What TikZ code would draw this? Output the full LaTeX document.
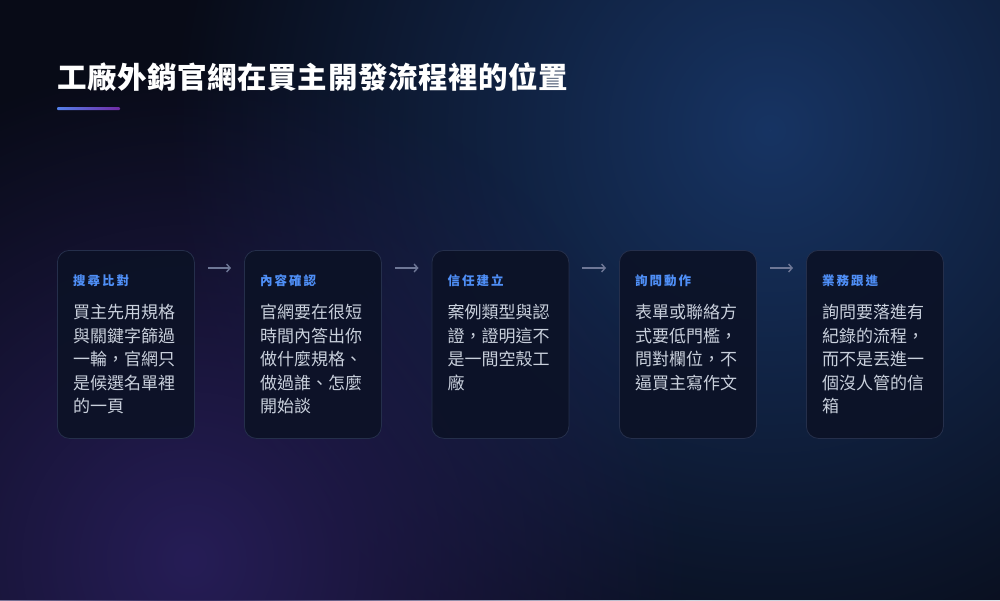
\documentclass[tikz,border=0pt]{standalone}
\usepackage{fontspec}
\setmainfont{Noto Sans CJK TC}
\newfontfamily\headfont[LetterSpace=16]{Noto Sans CJK TC}
\newfontfamily\titlefont[LetterSpace=2]{Noto Sans CJK TC}
\usepackage{xcolor}
\usetikzlibrary{
  arrows.meta,
  positioning,
  fadings
}
\definecolor{bgnavy}{HTML}{080B17}
\definecolor{glowblue}{HTML}{173463}
\definecolor{glowviolet}{HTML}{261D56}
\definecolor{cardfill}{HTML}{0C1226}
\definecolor{cardline}{HTML}{252F4B}
\definecolor{headblue}{HTML}{4F8FF7}
\definecolor{bodygrey}{HTML}{C9D0DC}
\definecolor{flowgrey}{HTML}{6E7796}
\tikzfading[name=glowfade, inner color=transparent!0, outer color=transparent!100]
\tikzset{
  card/.style={
    anchor=north west,
    draw=cardline,
    fill=cardfill,
    fill opacity=0.9,
    line width=0.8pt,
    rounded corners=12pt,
    minimum width=137pt,
    minimum height=188pt},
  cardhead/.style={
    anchor=base west,
    inner sep=0pt,
    text=headblue,
    font=\headfont\bfseries\fontsize{12.5}{15}\selectfont},
  cardbody/.style={
    anchor=north west,
    inner sep=0pt,
    align=left,
    text=bodygrey,
    font=\fontsize{17}{23.6}\selectfont},
  flow/.style={
    -{Straight Barb[length=3.5pt,width=8pt]},
    draw=flowgrey,
    line width=1.4pt}
  }

\begin{document}
\begin{tikzpicture}[x=1pt,y=-1pt]
    % background and glows
    \useasboundingbox (0,0) rectangle (1000,600);
    \clip (0,0) rectangle (1000,600);
    \fill[bgnavy] (0,0) rectangle (1000,600);
    \fill[glowblue, path fading=glowfade] (770,130) circle (600pt);
    \fill[glowviolet, path fading=glowfade] (190,560) circle (500pt);
    % title
    \node[anchor=base west, inner sep=0pt, text=white,
      font=\titlefont\bfseries\fontsize{29.5}{32}\selectfont] (title) at (57,88)
      {工廠外銷官網在買主開發流程裡的位置};
    \shade[left color=headblue!90!violet, right color=violet!70!headblue,
      rounded corners=1pt] (57,107) rectangle (120,110);
    % cards
    \node[card] (b1) at (57,250) {};
    \node[card] (b2) at (244,250) {};
    \node[card] (b3) at (431.5,250) {};
    \node[card] (b4) at (619,250) {};
    \node[card] (b5) at (806,250) {};
    \node[cardhead] (h1) at ([xshift=16pt,yshift=-35pt]b1.north west) {搜尋比對};
    \node[cardhead] (h2) at ([xshift=16pt,yshift=-35pt]b2.north west) {內容確認};
    \node[cardhead] (h3) at ([xshift=16pt,yshift=-35pt]b3.north west) {信任建立};
    \node[cardhead] (h4) at ([xshift=16pt,yshift=-35pt]b4.north west) {詢問動作};
    \node[cardhead] (h5) at ([xshift=16pt,yshift=-35pt]b5.north west) {業務跟進};
    \node[cardbody] (t1) at ([yshift=-19pt]h1.base west)
      {買主先用規格\\與關鍵字篩過\\一輪，官網只\\是候選名單裡\\的一頁};
    \node[cardbody] (t2) at ([yshift=-19pt]h2.base west)
      {官網要在很短\\時間內答出你\\做什麼規格、\\做過誰、怎麼\\開始談};
    \node[cardbody] (t3) at ([yshift=-19pt]h3.base west)
      {案例類型與認\\證，證明這不\\是一間空殼工\\廠};
    \node[cardbody] (t4) at ([yshift=-19pt]h4.base west)
      {表單或聯絡方\\式要低門檻，\\問對欄位，不\\逼買主寫作文};
    \node[cardbody] (t5) at ([yshift=-19pt]h5.base west)
      {詢問要落進有\\紀錄的流程，\\而不是丟進一\\個沒人管的信\\箱};
    % arrows between cards
    \path
    ([xshift=13pt,yshift=-18pt]b1.north east) edge[flow] ([xshift=-13pt,yshift=-18pt]b2.north west)
    ([xshift=13pt,yshift=-18pt]b2.north east) edge[flow] ([xshift=-13pt,yshift=-18pt]b3.north west)
    ([xshift=13pt,yshift=-18pt]b3.north east) edge[flow] ([xshift=-13pt,yshift=-18pt]b4.north west)
    ([xshift=13pt,yshift=-18pt]b4.north east) edge[flow] ([xshift=-13pt,yshift=-18pt]b5.north west);
  \end{tikzpicture}
\end{document}
